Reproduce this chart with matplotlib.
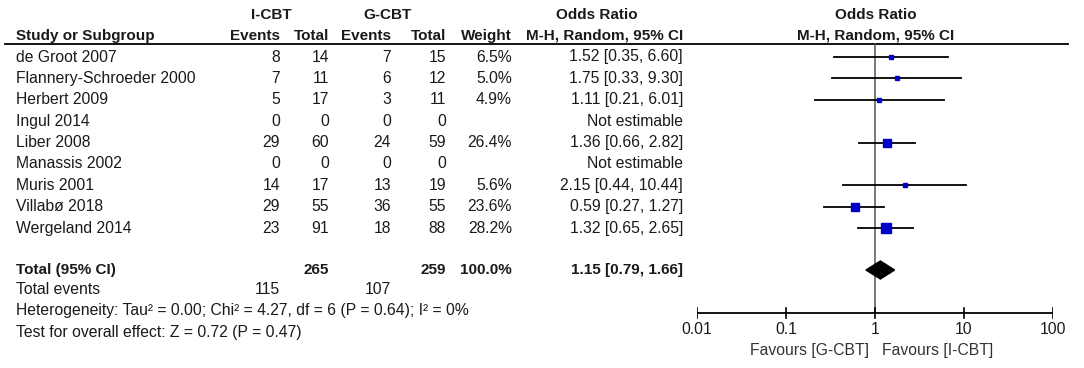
import matplotlib
matplotlib.use("Agg")
import matplotlib.pyplot as plt
import numpy as np

plt.rcParams['font.family'] = ['Liberation Sans', 'DejaVu Sans']

studies = ["de Groot 2007", "Flannery-Schroeder 2000", "Herbert 2009", "Ingul 2014",
           "Liber 2008", "Manassis 2002", "Muris 2001", "Villabø 2018", "Wergeland 2014"]
icbt_events = [8, 7, 5, 0, 29, 0, 14, 29, 23]
icbt_total = [14, 11, 17, 0, 60, 0, 17, 55, 91]
gcbt_events = [7, 6, 3, 0, 24, 0, 13, 36, 18]
gcbt_total = [15, 12, 11, 0, 59, 0, 19, 55, 88]
weights = [6.5, 5.0, 4.9, None, 26.4, None, 5.6, 23.6, 28.2]
or_est = [1.52, 1.75, 1.11, None, 1.36, None, 2.15, 0.59, 1.32]
or_lo = [0.35, 0.33, 0.21, None, 0.66, None, 0.44, 0.27, 0.65]
or_hi = [6.60, 9.30, 6.01, None, 2.82, None, 10.44, 1.27, 2.65]
total_or = 1.15
total_lo = 0.79
total_hi = 1.66
total_n_i = 265
total_n_g = 259
total_ev_i = 115
total_ev_g = 107
ticks = [0.01, 0.1, 1, 10, 100]
tick_labels = ["0.01", "0.1", "1", "10", "100"]

W, H = 1084, 368
fig = plt.figure(figsize=(W / 100, H / 100), dpi=100)

tab = fig.add_axes([0, 0, 1, 1])
tab.set_xlim(0, W)
tab.set_ylim(H, 0)
tab.axis('off')

fx0, fx1 = 697, 1053
fp = fig.add_axes([fx0 / W, 0, (fx1 - fx0) / W, 1])
fp.set_xscale('log')
fp.set_xlim(0.01, 100)
fp.set_ylim(H, 0)
fp.axis('off')
fp.patch.set_alpha(0)

FS = 11.3
FSB = 11.0
col = '#1a1a1a'

row_y0 = 57
row_dy = 21.4
rows_y = [row_y0 + i * row_dy for i in range(len(studies))]

# headers
tab.text(271, 15, "I-CBT", ha='center', va='center', fontsize=FSB, fontweight='bold', color=col)
tab.text(388, 15, "G-CBT", ha='center', va='center', fontsize=FSB, fontweight='bold', color=col)
tab.text(597, 15, "Odds Ratio", ha='center', va='center', fontsize=FSB, fontweight='bold', color=col)
tab.text(876, 15, "Odds Ratio", ha='center', va='center', fontsize=FSB, fontweight='bold', color=col)
hy = 36
tab.text(16, hy, "Study or Subgroup", ha='left', va='center', fontsize=FSB, fontweight='bold', color=col)
for xr, s in [(280, "Events"), (329, "Total"), (391, "Events"), (446, "Total"), (512, "Weight"),
              (683, "M-H, Random, 95% CI")]:
    tab.text(xr, hy, s, ha='right', va='center', fontsize=FSB, fontweight='bold', color=col)
tab.text(876, hy, "M-H, Random, 95% CI", ha='center', va='center', fontsize=FSB, fontweight='bold', color=col)
tab.plot([5, 1068], [43.5, 43.5], color='black', lw=1.3)

for i, y in enumerate(rows_y):
    tab.text(16, y, studies[i], ha='left', va='center', fontsize=FS, color=col)
    tab.text(280, y, str(icbt_events[i]), ha='right', va='center', fontsize=FS, color=col)
    tab.text(329, y, str(icbt_total[i]), ha='right', va='center', fontsize=FS, color=col)
    tab.text(391, y, str(gcbt_events[i]), ha='right', va='center', fontsize=FS, color=col)
    tab.text(446, y, str(gcbt_total[i]), ha='right', va='center', fontsize=FS, color=col)
    if weights[i] is not None:
        tab.text(512, y, f"{weights[i]:.1f}%", ha='right', va='center', fontsize=FS, color=col)
        tab.text(683, y, f"{or_est[i]:.2f} [{or_lo[i]:.2f}, {or_hi[i]:.2f}]", ha='right', va='center',
                 fontsize=FS, color=col)
        fp.plot([or_lo[i], or_hi[i]], [y, y], color='black', lw=1.3, zorder=3)
        side_px = 1.72 * np.sqrt(weights[i])
        fp.plot([or_est[i]], [y], marker='s', ms=side_px * 0.72, color='#0000c8',
                mec='#0000c8', zorder=4, ls='none')
    else:
        tab.text(683, y, "Not estimable", ha='right', va='center', fontsize=FS, color=col)

# totals
ty = 270
tab.text(16, ty, "Total (95% CI)", ha='left', va='center', fontsize=FSB, fontweight='bold', color=col)
tab.text(329, ty, str(total_n_i), ha='right', va='center', fontsize=FSB, fontweight='bold', color=col)
tab.text(446, ty, str(total_n_g), ha='right', va='center', fontsize=FSB, fontweight='bold', color=col)
tab.text(512, ty, "100.0%", ha='right', va='center', fontsize=FSB, fontweight='bold', color=col)
tab.text(683, ty, f"{total_or:.2f} [{total_lo:.2f}, {total_hi:.2f}]", ha='right', va='center',
         fontsize=FSB, fontweight='bold', color=col)
dh = 9
fp.fill([total_lo, total_or, total_hi, total_or], [ty, ty - dh, ty, ty + dh], color='black', zorder=4)

ey = 290
tab.text(16, ey, "Total events", ha='left', va='center', fontsize=FS, color=col)
tab.text(280, ey, str(total_ev_i), ha='right', va='center', fontsize=FS, color=col)
tab.text(391, ey, str(total_ev_g), ha='right', va='center', fontsize=FS, color=col)
tab.text(16, 311, "Heterogeneity: Tau² = 0.00; Chi² = 4.27, df = 6 (P = 0.64); I² = 0%",
         ha='left', va='center', fontsize=FS, color=col)
tab.text(16, 332, "Test for overall effect: Z = 0.72 (P = 0.47)",
         ha='left', va='center', fontsize=FS, color=col)

# forest axis
ay = 313
fp.plot([1, 1], [43.5, ay], color='#555555', lw=1.1, zorder=2)
fp.plot([ticks[0], ticks[-1]], [ay, ay], color='black', lw=1.3)
for t, lab in zip(ticks, tick_labels):
    fp.plot([t, t], [ay - 5, ay + 5], color='black', lw=1.2)
    fp.text(t, 330, lab, ha='center', va='center', fontsize=FS, color=col)
fp.text(0.85, 350, "Favours [G-CBT]", ha='right', va='center', fontsize=FS, color='#333333')
fp.text(1.2, 350, "Favours [I-CBT]", ha='left', va='center', fontsize=FS, color='#333333')

fig.savefig("out.png", dpi=100)
